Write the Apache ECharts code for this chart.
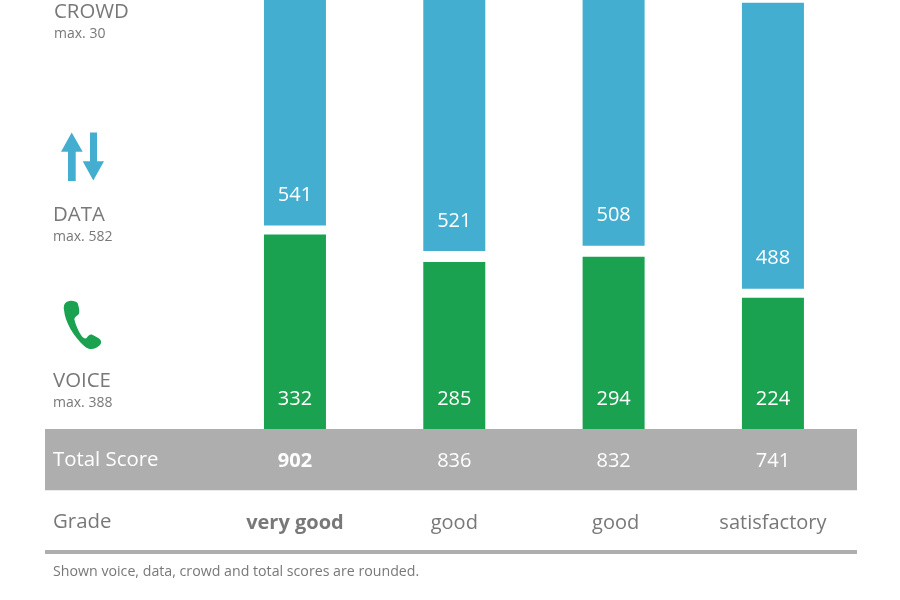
<!DOCTYPE html>
<html><head><meta charset="utf-8">
<script src="https://cdn.jsdelivr.net/npm/echarts@6/dist/echarts.min.js"></script>
<style>html,body{margin:0;padding:0;background:#fff}#c{width:900px;height:600px}</style>
</head><body><div id="c"></div>
<script>
const voice=[332,285,294,224];
const data=[541,521,508,488];
const gaps=[15.4,18.8,18.8,15.4];
const totals=['902','836','832','741'];
const grades=['very good','good','good','satisfactory'];
const highlighted=0;
const FONT='"Open Sans"';
const TEXT='#787878', BLUE='#44AED1', GREEN='#1BA250', GREY='#AEAEAE';
const catLabels=[['CROWD','max. 30',54,12,34],['DATA','max. 582',53,215,237],['VOICE','max. 388',53,381,403]];
echarts.graphic.registerShape('phoneIcon',echarts.graphic.extendPath('M118 303C104 305 100 316 102 330C105 365 130 410 165 440C178 450 195 450 210 435C216 428 214 420 205 414L187 404C180 402 175 406 170 414C165 417 160 414 155 408C145 395 137 375 133 358C133 352 140 349 146 343C149 338 148 330 146 320L143 310C140 305 128 301 118 303Z',{}));
const axisData=(arr,extra)=>arr.map((v,i)=>({value:v,textStyle:Object.assign({},i===highlighted?{fontWeight:'bold'}:{},extra&&extra[i]||{})}));
const txt=(t,x,y,size,fill)=>({type:'text',x,y,z:10,style:{text:t,fill,font:`${size}px ${FONT}`,textAlign:'left',textVerticalAlign:'middle'}});
const graphic=[
 {type:'rect',z:-1,shape:{x:45,y:429,width:812,height:61.3},style:{fill:GREY}},
 {type:'rect',z:-1,shape:{x:45,y:550,width:812,height:4},style:{fill:GREY}},
 {type:'polygon',shape:{points:[[71.7,132.5],[82.7,151.7],[75.7,151.7],[75.7,181],[68,181],[68,151.7],[61,151.7]]},style:{fill:BLUE}},
 {type:'polygon',shape:{points:[[90,132.5],[97,132.5],[97,161.3],[104,161.3],[93.3,180.5],[82.7,161.3],[90,161.3]]},style:{fill:BLUE}},
 {type:'phoneIcon',x:30,y:200,scaleX:1/3,scaleY:1/3,style:{fill:GREEN}},
 txt('Total Score',53,460,20.4,'#fff'),
 txt('Grade',53,522,20.4,TEXT),
 txt('Shown voice, data, crowd and total scores are rounded.',53,572,14.2,TEXT)
];
catLabels.forEach(c=>{graphic.push(txt(c[0],c[2],c[3],20.4,TEXT));graphic.push(txt(c[1],c[2],c[4],14,TEXT));});
const barLabel={show:true,position:'insideBottom',distance:20,color:'#fff',fontFamily:FONT,fontSize:20};
const chart=echarts.init(document.getElementById('c'),null,{renderer:'canvas'});
chart.setOption({
 animation:false,
 graphic,
 grid:{left:215.3,width:637.3,top:0,bottom:171,containLabel:false},
 xAxis:[
  {type:'category',position:'bottom',data:axisData(totals),axisLine:{show:false},axisTick:{show:false},
   axisLabel:{color:'#fff',fontFamily:FONT,fontSize:20,margin:22,interval:0}},
  {type:'category',position:'bottom',offset:62,data:axisData(grades,{2:{padding:[0,0,0,4]}}),axisLine:{show:false},axisTick:{show:false},
   axisLabel:{color:TEXT,fontFamily:FONT,fontSize:20,margin:22,interval:0}}
 ],
 yAxis:{type:'value',min:0,max:732,show:false,splitLine:{show:false}},
 series:[
  {name:'Voice',type:'bar',stack:'s',barWidth:62,data:voice,itemStyle:{color:GREEN},label:barLabel},
  {name:'Gap',type:'bar',stack:'s',barWidth:62,data:gaps,itemStyle:{color:'transparent'},silent:true},
  {name:'Data',type:'bar',stack:'s',barWidth:62,data:data,itemStyle:{color:BLUE},label:barLabel}
 ]
});
</script></body></html>
